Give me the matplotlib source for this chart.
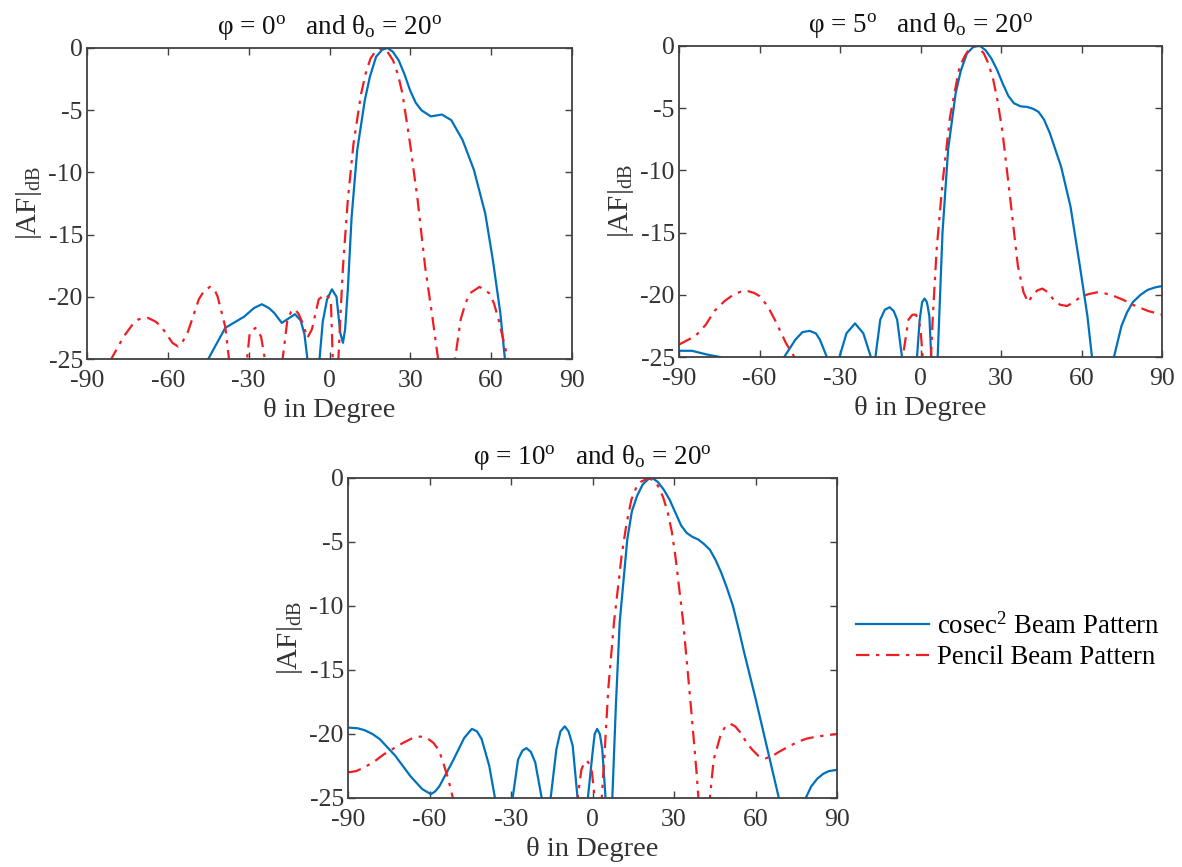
import numpy as np
import matplotlib
matplotlib.use("Agg")
import matplotlib.pyplot as plt

plt.rcParams['font.family'] = ['Liberation Serif', 'DejaVu Serif']
plt.rcParams['mathtext.fontset'] = 'custom'
plt.rcParams['mathtext.rm'] = 'Liberation Serif'
plt.rcParams['mathtext.it'] = 'Liberation Serif:italic'
plt.rcParams['axes.unicode_minus'] = False

# ---------------- data (theta in degree, |AF| in dB) ----------------
tl_cosec = [(-50, -30), (-45, -25), (-38.7, -22.5), (-31.7, -21.6), (-28, -20.9), (-25.1, -20.6),
            (-22.5, -20.9), (-20.5, -21.3), (-17.7, -22.1), (-15.6, -21.8), (-12.8, -21.4),
            (-10.7, -21.9), (-9.3, -23), (-8.2, -25), (-6, -35), (-3.7, -25), (-2.5, -22),
            (-0.9, -20.2), (0.9, -19.4), (2.6, -20), (4.0, -22.9), (5.0, -23.7), (5.8, -22.6),
            (6.8, -19.4), (8.2, -13.6), (10.3, -8.2), (13.1, -4.2), (15, -2.3), (17.3, -0.7),
            (19.5, -0.15), (21.5, 0), (23.5, -0.3), (25.7, -1.0), (27.8, -2.1), (29.9, -3.4),
            (32, -4.4), (34.1, -5.0), (37.6, -5.5), (41.7, -5.35), (45.2, -5.8), (49.4, -7.4),
            (53.6, -9.8), (57.8, -13.3), (60.6, -17.0), (63.4, -21.3), (65.1, -25), (67, -32)]
tl_pencil = [(-84, -30), (-81, -25), (-76.4, -23.2), (-73, -22.2), (-70.8, -21.8), (-67.3, -21.7),
             (-64.5, -22), (-62.4, -22.4), (-58.3, -23.7), (-56.2, -24.0), (-54.5, -23.6),
             (-52.7, -22.9), (-50.5, -21.5), (-48.5, -20.2), (-46.5, -19.5), (-44.3, -19.2),
             (-42.5, -19.5), (-41.5, -20.0), (-38.7, -22.4), (-37.3, -25), (-34, -35),
             (-30.6, -25), (-29.6, -22.9), (-27.5, -22.5), (-25.4, -23.2), (-24.0, -25),
             (-21, -35), (-17.4, -25), (-15.6, -21.8), (-14.2, -21.2), (-12.8, -21.0),
             (-11.4, -21.4), (-10.0, -22.1), (-8.2, -23.3), (-6.5, -22.6), (-4.0, -20.2),
             (-1.6, -19.8), (0.5, -20.2), (1.2, -25), (2.2, -35), (3.3, -25), (4.0, -21.8),
             (5.0, -17.6), (6.8, -12.2), (8.9, -7.7), (11.7, -3.7), (13.5, -2), (15.2, -0.85),
             (17.3, -0.2), (19.6, 0), (21.5, -0.3), (23.6, -1.0), (25.5, -2.2), (27.1, -3.7),
             (29.9, -7.7), (32.7, -12.2), (35.5, -17.6), (38.3, -21.8), (40.3, -25), (43.5, -35),
             (46.6, -25), (48.7, -21.8), (50.5, -20.5), (52.2, -19.7), (55.7, -19.2), (59.2, -19.7),
             (61, -20.5), (62.7, -21.8), (66.2, -25), (68, -28)]

tr_cosec = [(-90, -24.5), (-85.2, -24.5), (-79.6, -24.8), (-74.7, -25), (-70, -27), (-62, -35),
            (-55, -30), (-50.8, -25), (-46.6, -23.6), (-44, -23.0), (-41.3, -22.9), (-39, -23.1),
            (-37.5, -23.6), (-34.9, -25), (-32.5, -35), (-30.2, -25), (-27.6, -23.1),
            (-24.4, -22.3), (-21.3, -23.1), (-18.5, -25), (-17.6, -30), (-16.8, -25),
            (-15.0, -22.0), (-13.3, -21.2), (-11.5, -21.0), (-10, -21.3), (-8.7, -22.0),
            (-6.9, -25), (-4, -35), (-1.3, -25), (-0.3, -22.0), (0.6, -20.6), (1.5, -20.3),
            (2.4, -20.6), (3.3, -21.7), (4.0, -25), (5.2, -35), (6.4, -25), (8.2, -15.0),
            (10.3, -8.3), (13.1, -3.8), (15, -2.0), (17.3, -0.6), (19.8, -0.05), (22.2, 0),
            (24.3, -0.35), (26.4, -1.0), (28.5, -1.9), (30.6, -3.0), (32.7, -4.0), (34.8, -4.6),
            (37.3, -4.85), (39.8, -4.9), (42, -5.05), (44.0, -5.3), (46, -5.9), (48.2, -7.0),
            (52.4, -9.7), (55.9, -12.9), (59.4, -17.7), (62.2, -21.7), (63.9, -25), (68, -40),
            (72.1, -25), (74.9, -22.5), (77, -21.4), (79.1, -20.6), (82, -20.0), (84.7, -19.6),
            (87.5, -19.4), (90, -19.3)]
tr_pencil = [(-90, -24.0), (-83.8, -23.3), (-80, -22.4), (-76.8, -21.3), (-73, -20.5), (-69.8, -20.0),
             (-67, -19.75), (-64.4, -19.7), (-62, -19.85), (-60.0, -20.1), (-57, -20.9),
             (-54.3, -22.0), (-50.1, -23.9), (-47.0, -25), (-45, -30), (-40, -40), (-12, -40),
             (-6.6, -25), (-4.5, -22.0), (-3, -21.6), (-1.7, -21.6), (-0.5, -22.2), (0.1, -23),
             (0.8, -25), (2.3, -35), (3.9, -25), (4.6, -21.7), (6.0, -16.4), (8.2, -11.0),
             (11.0, -5.7), (14.5, -1.7), (16.5, -0.8), (18.0, -0.3), (20.4, 0), (22, -0.2),
             (23.6, -0.6), (25.3, -1.4), (27.1, -2.7), (28.8, -4.5), (30.6, -7.0), (33.5, -12.4),
             (36.3, -17.7), (38.4, -19.8), (40.1, -20.6), (41.9, -20.0), (43.5, -19.65),
             (45.4, -19.5), (47.5, -19.8), (49.6, -20.4), (52, -20.8), (54.6, -20.9), (57, -20.6),
             (59.5, -20.2), (62.5, -19.95), (65.8, -19.8), (69, -19.9), (72.1, -20.1),
             (75.5, -20.4), (79.1, -20.8), (84.8, -21.3), (90, -21.6)]

bt_cosec = [(-90, -19.5), (-86.5, -19.55), (-83.9, -19.7), (-81, -20.0), (-78.3, -20.4),
            (-72.6, -21.7), (-67.0, -23.3), (-62.7, -24.3), (-59.5, -24.7), (-58, -24.5),
            (-56.4, -24.1), (-51.4, -22.1), (-47.2, -20.3), (-44.4, -19.6), (-42.5, -19.8),
            (-40.8, -20.4), (-38.0, -22.5), (-35.9, -25), (-32.5, -35), (-29.4, -25),
            (-27.4, -22.0), (-25.8, -21.3), (-24.3, -21.1), (-22.7, -21.4), (-21.1, -22.2),
            (-18.7, -25), (-17, -30), (-15.4, -25), (-13.3, -21.2), (-11.8, -19.8), (-10.2, -19.4),
            (-8.8, -19.8), (-7.3, -20.9), (-5.5, -25), (-3.6, -35), (-1.7, -25), (-0.1, -21.7),
            (0.8, -20.0), (1.7, -19.6), (2.7, -20.0), (3.6, -21.2), (4.8, -25), (6, -35),
            (7.3, -25), (8.6, -17.8), (10.0, -11.3), (12.8, -4.8), (14.5, -2.6), (16.4, -1.4),
            (18.5, -0.5), (20.5, -0.1), (22.0, 0), (24, -0.3), (26.2, -0.9), (28.4, -1.7),
            (30.5, -2.7), (32.6, -3.7), (34.7, -4.3), (36.8, -4.6), (38.9, -4.8), (41, -5.15),
            (43.2, -5.6), (45.3, -6.4), (47.4, -7.4), (49.5, -8.6), (51.7, -10.0), (53.8, -11.8),
            (55.9, -13.7), (58, -15.5), (60.1, -17.3), (62.2, -19.2), (64.4, -21.2), (68.6, -25),
            (73, -40), (78.5, -25), (80.5, -24.1), (82.7, -23.5), (85, -23.1), (87.0, -22.9),
            (90, -22.8)]
bt_pencil = [(-90, -23.0), (-87, -22.9), (-83.9, -22.6), (-80, -22.1), (-76.9, -21.6), (-73, -21.1),
             (-69.8, -20.7), (-66.5, -20.35), (-63.4, -20.2), (-61, -20.3), (-58.5, -20.7),
             (-56.5, -21.3), (-55.0, -22.2), (-53, -23.6), (-51.4, -25), (-49, -35), (-30, -40),
             (-10, -40), (-5.5, -25), (-4.1, -22.8), (-3, -22.2), (-2.0, -22.1), (-1, -22.4),
             (-0.2, -23.0), (0.8, -25), (2, -35), (3.4, -25), (4.4, -21.7), (5.8, -16.5),
             (7.9, -11.3), (10.7, -6.1), (12.5, -3.6), (14.3, -1.7), (16, -0.8), (17.8, -0.3),
             (20.6, 0), (22.5, -0.2), (24.2, -0.65), (26, -1.5), (27.7, -2.7), (29.2, -4.2),
             (30.5, -6.1), (33.4, -11.3), (36.2, -17.8), (38.3, -23.0), (39.0, -25), (41, -35),
             (43.2, -25), (44.6, -22.0), (47.4, -19.9), (49, -19.4), (50.7, -19.2), (52.5, -19.4),
             (54.5, -19.9), (56.5, -20.6), (58.7, -21.2), (61, -21.7), (63.7, -21.9), (66, -21.75),
             (68.6, -21.4), (72, -21.0), (75.7, -20.6), (79, -20.35), (82.7, -20.2), (86, -20.1),
             (90, -20.0)]

titles = [r'φ = 0$^{\rm o}$   and θ$_{\rm o}$ = 20$^{\rm o}$',
          r'φ = 5$^{\rm o}$   and θ$_{\rm o}$ = 20$^{\rm o}$',
          r'φ = 10$^{\rm o}$   and θ$_{\rm o}$ = 20$^{\rm o}$']
xticks = [-90, -60, -30, 0, 30, 60, 90]
yticks = [0, -5, -10, -15, -20, -25]
legend_labels = [r'cosec$^2$ Beam Pattern', 'Pencil Beam Pattern']

# ---------------- figure ----------------
W, H = 1182, 867
fig = plt.figure(figsize=(W / 100, H / 100), dpi=100)

def rect(l, t, r, b):
    return [l / W, 1 - b / H, (r - l) / W, (b - t) / H]

boxes = [rect(87, 48, 572, 359), rect(679, 46, 1162, 357), rect(348, 478, 837, 798)]
series = [(tl_cosec, tl_pencil), (tr_cosec, tr_pencil), (bt_cosec, bt_pencil)]

blue = '#0072BD'
red = '#F01E23'
axcol = '#404040'
txtcol = '#333333'
fs = 18.5

lines = None
for box, (c, p), ttl in zip(boxes, series, titles):
    ax = fig.add_axes(box)
    cx, cy = zip(*c)
    px, py = zip(*p)
    l1, = ax.plot(cx, cy, color=blue, lw=1.6, solid_joinstyle='round')
    l2, = ax.plot(px, py, color=red, lw=1.6, linestyle=(0, (6, 3, 1.5, 3)))
    lines = (l1, l2)
    ax.set_xlim(-90, 90)
    ax.set_ylim(-25, 0)
    ax.set_xticks(xticks)
    ax.set_yticks(yticks)
    ax.set_xticklabels([str(v) for v in xticks])
    ax.set_yticklabels([str(v) for v in yticks])
    ax.tick_params(direction='in', length=5, width=1, colors=axcol, labelcolor=txtcol,
                   labelsize=fs, top=True, right=True)
    ax.tick_params(axis='x', pad=8)
    ax.tick_params(axis='y', pad=3)
    for s in ax.spines.values():
        s.set_color(axcol)
        s.set_linewidth(1.3)
    ax.set_title(ttl, fontsize=19.5, color='#111111', pad=10)
    ax.set_xlabel('θ in Degree', fontsize=20.5, color=txtcol, labelpad=4)
    ax.set_ylabel(r'$|\mathrm{AF}|_{\mathrm{dB}}$', fontsize=21, color=txtcol, labelpad=3)

fig.legend(lines, legend_labels, loc='upper left', bbox_to_anchor=(845 / W, 1 - 602 / H),
           frameon=False, fontsize=19.3, handlelength=2.75, handletextpad=0.3, labelspacing=0.22,
           borderaxespad=0)

fig.savefig('out.png', dpi=100)
